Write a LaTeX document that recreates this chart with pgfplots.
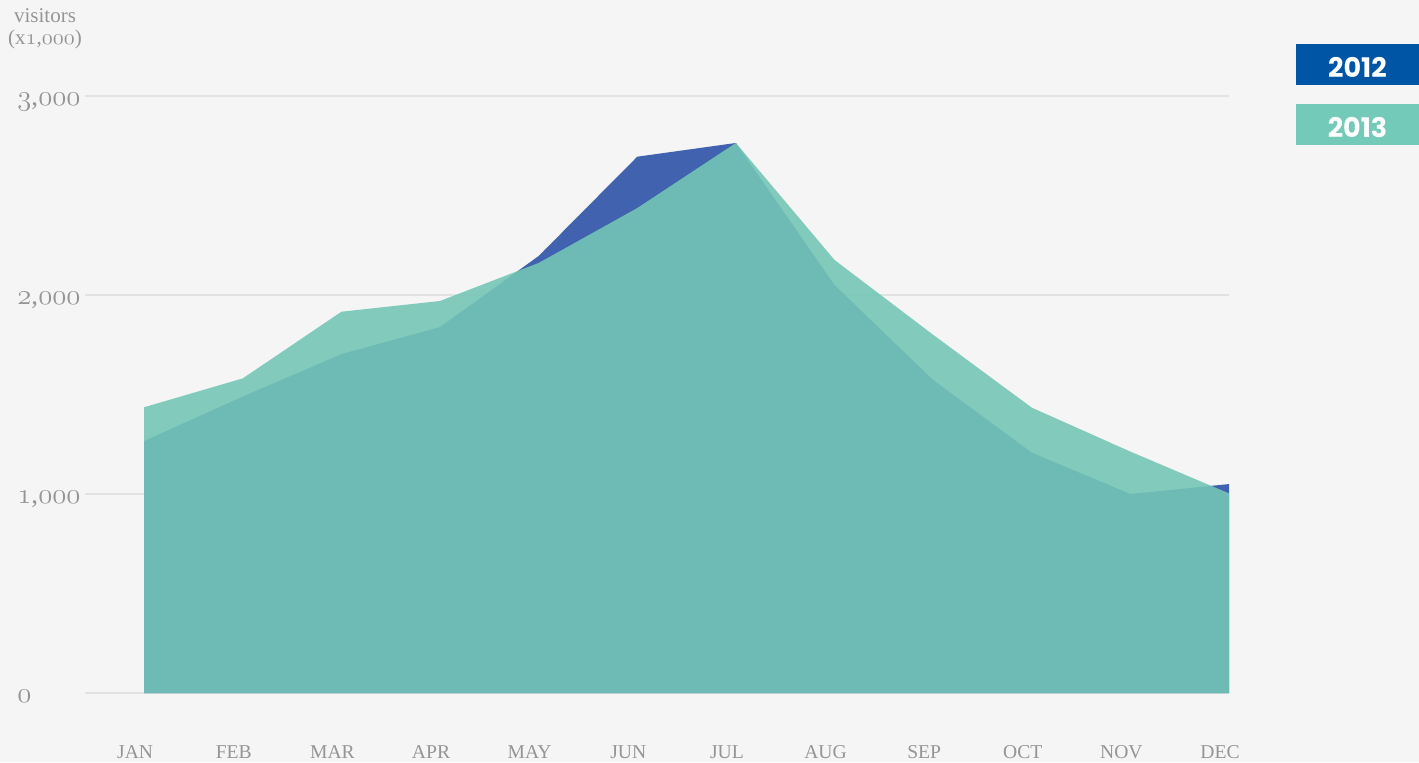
\documentclass[border=0pt]{standalone}
\usepackage{fontspec}
\setmainfont{Liberation Serif}
\newfontfamily\legfont{Poppins}
\usepackage{pgfplots}
\pgfplotsset{compat=1.18}
\definecolor{bg}{HTML}{F4F5F4}
\definecolor{txt}{HTML}{959595}
\definecolor{gridc}{HTML}{E2E2E2}
\definecolor{blueA}{HTML}{2E53A8}
\definecolor{greenA}{HTML}{74C6B6}
\definecolor{blueL}{HTML}{0055A5}
\definecolor{greenL}{HTML}{74CAB9}
\newcommand\osf[1]{{\usefont{OML}{cmm}{m}{it}#1}}
\begin{document}
\begin{tikzpicture}
\fill[bg] (0,0) rectangle (709.5pt,381pt);
\path[use as bounding box] (0,0) rectangle (709.5pt,381pt);
\begin{axis}[
  at={(42.5pt,34.5pt)}, anchor=south west,
  scale only axis, width=572pt, height=298.5pt,
  xmin=-0.6, xmax=11, ymin=0, ymax=3000,
  axis line style={draw=none},
  major tick length=0pt,
  xtick={0,...,11},
  xticklabels={JAN,FEB,MAR,APR,MAY,JUN,JUL,AUG,SEP,OCT,NOV,DEC},
  xticklabel style={anchor=base, yshift=-32.5pt, xshift=-4.5pt, font=\fontsize{9.8}{11}\selectfont, text=txt},
  ytick={0,1000,2000,3000},
  yticklabels={\osf{0},\osf{1}{,}\osf{000},\osf{2}{,}\osf{000},\osf{3}{,}\osf{000}},
  yticklabel style={anchor=base west, inner sep=0pt, xshift=-34pt, yshift=-4.5pt, font=\fontsize{13.5}{15}\selectfont, text=txt},
  ymajorgrids,
  grid style={gridc, line width=0.8pt},
  clip=false,
]
\addplot[fill=blueA, fill opacity=0.9, draw=none] coordinates {
  (0,1266) (1,1490) (2,1703) (3,1839) (4,2196) (5,2695)
  (6,2764) (7,2050) (8,1573) (9,1208) (10,1000) (11,1050)
} \closedcycle;
\addplot[fill=greenA, fill opacity=0.89, draw=none] coordinates {
  (0,1436) (1,1581) (2,1916) (3,1970) (4,2161) (5,2437)
  (6,2764) (7,2176) (8,1800) (9,1434) (10,1213) (11,1003)
} \closedcycle;
\end{axis}
\node[anchor=base, text=txt, font=\fontsize{10.5}{12}\selectfont] at (22.5pt,369.5pt) {visitors};
\node[anchor=base, text=txt, font=\fontsize{10.5}{12}\selectfont] at (22.5pt,358.5pt) {(x\osf{1}{,}\osf{000})};
\fill[blueL] (648pt,338.5pt) rectangle (709.5pt,359pt);
\fill[greenL] (648pt,308.5pt) rectangle (709.5pt,329pt);
\node[text=white, font=\legfont\bfseries\fontsize{13.5}{15}\selectfont] at (678.75pt,347.5pt) {2012};
\node[text=white, font=\legfont\bfseries\fontsize{13.5}{15}\selectfont] at (678.75pt,317.5pt) {2013};
\end{tikzpicture}
\end{document}
